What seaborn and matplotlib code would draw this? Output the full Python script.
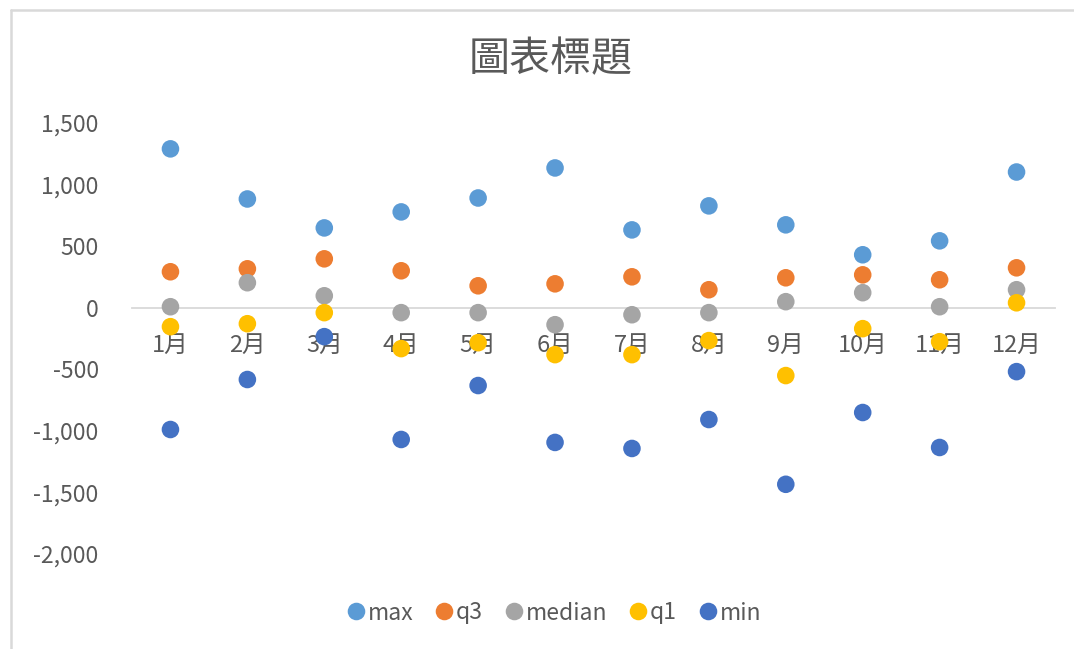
import matplotlib
matplotlib.use("Agg")
import matplotlib.pyplot as plt
from matplotlib.lines import Line2D
from matplotlib.ticker import FuncFormatter
import seaborn as sns
import pandas as pd

months = ["1月", "2月", "3月", "4月", "5月", "6月", "7月", "8月", "9月", "10月", "11月", "12月"]
series_names = ["max", "q3", "median", "q1", "min"]
max_vals = [1290, 883, 648, 778, 891, 1135, 632, 827, 673, 430, 543, 1102]
q3_vals = [292, 316, 397, 300, 178, 194, 251, 146, 243, 267, 227, 324]
median_vals = [8, 203, 97, -40, -40, -138, -57, -40, 49, 122, 8, 146]
q1_vals = [-154, -130, -40, -332, -284, -381, -381, -267, -551, -170, -276, 40]
min_vals = [-989, -583, -235, -1070, -632, -1094, -1143, -908, -1434, -851, -1135, -519]
y_ticks = [1500, 1000, 500, 0, -500, -1000, -1500, -2000]
title = "圖表標題"

colors = {"max": "#5B9BD5", "q3": "#ED7D31", "median": "#A5A5A5", "q1": "#FFC000", "min": "#4472C4"}

rows = []
for name, vals in zip(series_names, [max_vals, q3_vals, median_vals, q1_vals, min_vals]):
    for m, v in zip(months, vals):
        rows.append({"month": m, "series": name, "value": v})
df = pd.DataFrame(rows)

sns.set_theme(style="white")
plt.rcParams["font.family"] = ["Noto Sans CJK TC", "DejaVu Sans"]
plt.rcParams["axes.unicode_minus"] = False

text_color = "#595959"
fig = plt.figure(figsize=(10.74, 6.49), dpi=100)
ax = fig.add_axes([132 / 1074, 1 - 554 / 649, (1055 - 132) / 1074, (554 - 123) / 649])

sns.scatterplot(data=df, x="month", y="value", hue="series", hue_order=series_names,
                palette=colors, s=160, linewidth=0, ax=ax, zorder=3)

ax.set_xlim(-0.5, len(months) - 0.5)
ax.set_ylim(-2000, 1500)
ax.set_yticks(y_ticks)
ax.yaxis.set_major_formatter(FuncFormatter(lambda v, p: f"{v:,.0f}"))
ax.set_xlabel("")
ax.set_ylabel("")

for s in ["top", "right", "left"]:
    ax.spines[s].set_visible(False)
ax.spines["bottom"].set_position(("data", 0))
ax.spines["bottom"].set_color("#D9D9D9")
ax.spines["bottom"].set_linewidth(1.3)
ax.spines["bottom"].set_zorder(1)
ax.tick_params(axis="x", length=0, pad=18.5, labelsize=17, labelcolor=text_color)
ax.tick_params(axis="y", length=0, pad=24, labelsize=16.5, labelcolor=text_color)
ax.grid(False)

handles, labels = ax.get_legend_handles_labels()
ax.legend(handles=handles, labels=labels, loc="center", bbox_to_anchor=(554 / 1074, 1 - 613 / 649),
          bbox_transform=fig.transFigure, ncol=5, frameon=False, fontsize=16.5,
          handlelength=0.8, handletextpad=0.12, columnspacing=0.95,
          labelcolor=text_color, markerscale=1.0)

fig.text(551 / 1074, 1 - 60 / 649, title, ha="center", va="center", fontsize=29.5, color=text_color)

# chart area border (top and left edges visible in the crop)
fig.add_artist(Line2D([11 / 1074, 1.0], [1 - 10 / 649, 1 - 10 / 649], transform=fig.transFigure,
                      color="#D9D9D9", linewidth=1.8))
fig.add_artist(Line2D([11 / 1074, 11 / 1074], [0.0, 1 - 10 / 649], transform=fig.transFigure,
                      color="#D9D9D9", linewidth=1.8))

fig.savefig("out.png", dpi=100)
